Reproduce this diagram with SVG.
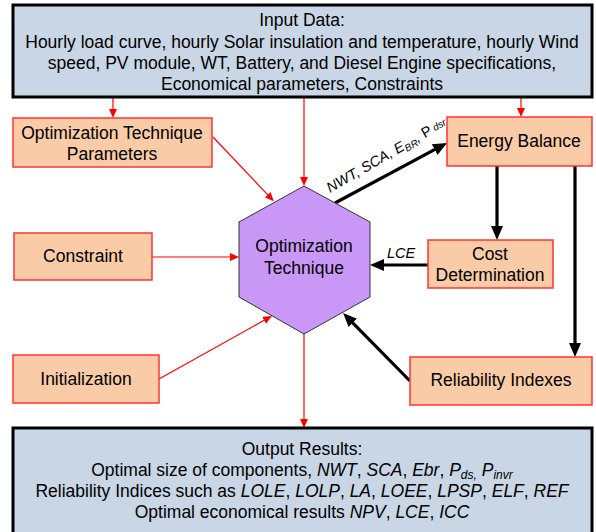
<svg xmlns="http://www.w3.org/2000/svg" width="596" height="532" viewBox="0 0 596 532">
  <style>
    text { font-family: "Liberation Sans", Arial, sans-serif; fill: #000; }
    .t { font-size: 17.5px; text-anchor: middle; }
    .io { fill: #c8d6e5; stroke: #000; stroke-width: 3; }
    .blk { fill: #f9cba6; stroke: #ff3333; stroke-width: 1.5; }
    .hex { fill: #c998f7; stroke: #333; stroke-width: 1; }
    .red { stroke: #ff0000; stroke-width: 1.2; fill: none; }
    .bk { stroke: #000; stroke-width: 3.2; fill: none; }
    .i { font-style: italic; }
    .lbl { font-size: 14.5px; font-style: italic; }
  </style>
  <defs>
    <marker id="ahRed" viewBox="0 0 9 8" refX="1" refY="4" markerWidth="9" markerHeight="8" markerUnits="userSpaceOnUse" orient="auto">
      <path d="M0,0 L9,4 L0,8 z" fill="#ff0000"/>
    </marker>
    <marker id="ahBlk" viewBox="0 0 14 12" refX="3" refY="6" markerWidth="14" markerHeight="12" markerUnits="userSpaceOnUse" orient="auto">
      <path d="M0,0 L14,6 L0,12 z" fill="#000"/>
    </marker>
  </defs>

  <g id="connectors">
    <line class="red" x1="113" y1="97" x2="113" y2="110" marker-end="url(#ahRed)"/>
    <line class="red" x1="304" y1="97" x2="304" y2="178" marker-end="url(#ahRed)"/>
    <line class="red" x1="521" y1="97" x2="521" y2="109" marker-end="url(#ahRed)"/>
    <line class="red" x1="213" y1="137" x2="268.3" y2="195.4" marker-end="url(#ahRed)"/>
    <line class="red" x1="152" y1="257" x2="231" y2="257" marker-end="url(#ahRed)"/>
    <line class="red" x1="159" y1="379" x2="265" y2="319.8" marker-end="url(#ahRed)"/>
    <line class="red" x1="304" y1="334" x2="304" y2="420" marker-end="url(#ahRed)"/>

    <line class="bk" x1="335" y1="203" x2="437.3" y2="148.2" marker-end="url(#ahBlk)"/>
    <line class="bk" x1="497" y1="166" x2="497" y2="229" marker-end="url(#ahBlk)"/>
    <line class="bk" x1="575" y1="166" x2="575" y2="346" marker-end="url(#ahBlk)"/>
    <line class="bk" x1="428" y1="265" x2="381" y2="265" marker-end="url(#ahBlk)"/>
    <line class="bk" x1="410" y1="381" x2="350.8" y2="320.8" marker-end="url(#ahBlk)"/>

    <text class="lbl" transform="translate(330,193) rotate(-30)">NWT, SCA, E<tspan font-size="10" dy="3">BR</tspan><tspan dy="-3">, </tspan><tspan font-style="normal">P</tspan><tspan font-size="10" dy="-1"> dsr</tspan></text>
    <text class="lbl" x="387" y="258">LCE</text>
  </g>

  <g id="input-data">
    <rect class="io" x="13" y="5" width="579" height="92"/>
    <text class="t" x="302" y="26">Input Data:</text>
    <text class="t" x="302" y="48">Hourly load curve, hourly Solar insulation and temperature, hourly Wind</text>
    <text class="t" x="302" y="69">speed, PV module, WT, Battery, and Diesel Engine specifications,</text>
    <text class="t" x="302" y="90">Economical parameters, Constraints</text>
  </g>

  <g id="opt-params">
    <rect class="blk" x="13" y="118" width="199" height="49"/>
    <text class="t" x="112" y="139">Optimization Technique</text>
    <text class="t" x="112" y="160">Parameters</text>
  </g>

  <g id="constraint">
    <rect class="blk" x="14" y="233" width="138" height="47"/>
    <text class="t" x="83" y="262">Constraint</text>
  </g>

  <g id="initialization">
    <rect class="blk" x="13" y="355" width="146" height="48"/>
    <text class="t" x="86" y="385">Initialization</text>
  </g>

  <g id="optimization-technique">
    <polygon class="hex" points="304,186 370,222 370,297 304,334 239,297 239,222"/>
    <text class="t" x="304" y="252">Optimization</text>
    <text class="t" x="304" y="274">Technique</text>
  </g>

  <g id="energy-balance">
    <rect class="blk" x="447" y="117" width="145" height="49"/>
    <text class="t" x="519" y="147">Energy Balance</text>
  </g>

  <g id="cost-determination">
    <rect class="blk" x="428" y="240" width="125" height="48"/>
    <text class="t" x="490" y="260">Cost</text>
    <text class="t" x="490" y="281">Determination</text>
  </g>

  <g id="reliability-indexes">
    <rect class="blk" x="410" y="357" width="182" height="48"/>
    <text class="t" x="501" y="386">Reliability Indexes</text>
  </g>

  <g id="output-results">
    <rect class="io" x="13" y="428" width="579" height="110"/>
    <text class="t" x="302" y="455">Output Results:</text>
    <text class="t" x="302" y="476">Optimal size of components, <tspan class="i">NWT</tspan>, <tspan class="i">SCA</tspan>, <tspan class="i">Ebr</tspan>, <tspan class="i">P</tspan><tspan class="i" font-size="12" dy="3">ds,</tspan><tspan dy="-3"> </tspan><tspan class="i">P</tspan><tspan class="i" font-size="12" dy="3">invr</tspan></text>
    <text class="t" x="302" y="497">Reliability Indices such as <tspan class="i">LOLE</tspan>, <tspan class="i">LOLP</tspan>, <tspan class="i">LA</tspan>, <tspan class="i">LOEE</tspan>, <tspan class="i">LPSP</tspan>, <tspan class="i">ELF</tspan>, <tspan class="i">REF</tspan></text>
    <text class="t" x="302" y="518">Optimal economical results <tspan class="i">NPV</tspan>, <tspan class="i">LCE</tspan>, <tspan class="i">ICC</tspan></text>
  </g>
</svg>
